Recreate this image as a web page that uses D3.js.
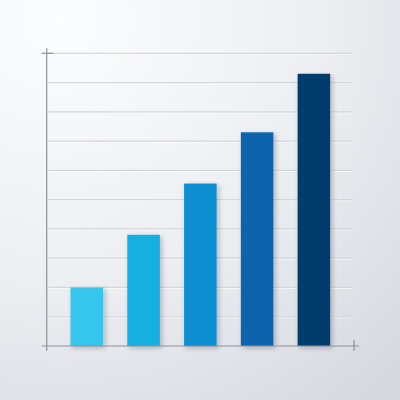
<!DOCTYPE html>
<html>
<head>
<meta charset="utf-8">
<script src="https://cdn.jsdelivr.net/npm/d3@7"></script>
<style>
  html, body { margin: 0; padding: 0; }
  svg { display: block; }
</style>
</head>
<body>
<div class="center"></div>
<script>
// chart data
const categories = ["A", "B", "C", "D", "E"];
const values = [2.0, 3.8, 5.55, 7.3, 9.3];
const barColors = ["#35c5ed", "#13afe2", "#0b8fd1", "#0964ad", "#063d6d"];
const gridTicks = [1, 2, 3, 4, 5, 6, 7, 8, 9, 10];

const W = 400, H = 400;
const x0 = 46.7, x1 = 354, yBase = 346, yTop = 53.3;

const svg = d3.select(".center").append("svg")
    .attr("width", W)
    .attr("height", H);

const defs = svg.append("defs");

// background gradient, light at top left
const bg = defs.append("radialGradient")
    .attr("id", "bg")
    .attr("cx", "0.15").attr("cy", "0.05").attr("r", "1.2");
bg.append("stop").attr("offset", "0").attr("stop-color", "#fcfdfe");
bg.append("stop").attr("offset", "0.55").attr("stop-color", "#eceef2");
bg.append("stop").attr("offset", "1").attr("stop-color", "#d6d9df");

const shadow = defs.append("filter")
    .attr("id", "shadow")
    .attr("x", "-30%").attr("y", "-10%")
    .attr("width", "160%").attr("height", "130%");
shadow.append("feDropShadow")
    .attr("dx", 2).attr("dy", 2)
    .attr("stdDeviation", 2.5)
    .attr("flood-color", "#1a2230")
    .attr("flood-opacity", 0.28);

svg.append("rect")
    .attr("width", W).attr("height", H)
    .attr("fill", "url(#bg)");

// scales
const xScale = d3.scaleBand()
    .domain(categories)
    .range([x0, x1])
    .paddingInner(0.427)
    .paddingOuter(0.42);

const yScale = d3.scaleLinear()
    .domain([0, 10])
    .range([yBase, yTop]);

// grid lines, with a faint light edge under each
const grid = svg.append("g");
grid.selectAll("line.hi")
    .data(gridTicks)
    .enter().append("line")
    .attr("class", "hi")
    .attr("x1", x0 + 1.5)
    .attr("x2", x1 - 1)
    .attr("y1", d => yScale(d) + 1)
    .attr("y2", d => yScale(d) + 1)
    .attr("stroke", "#ffffff")
    .attr("stroke-opacity", 0.6)
    .attr("stroke-width", 1);
grid.selectAll("line.gl")
    .data(gridTicks)
    .enter().append("line")
    .attr("class", "gl")
    .attr("x1", x0 + 1.5)
    .attr("x2", x1 - 1)
    .attr("y1", d => yScale(d))
    .attr("y2", d => yScale(d))
    .attr("stroke", "#d3d6db")
    .attr("stroke-width", 1.2);

// bars
svg.append("g")
    .selectAll("rect")
    .data(values)
    .enter().append("rect")
    .attr("x", (d, i) => xScale(categories[i]))
    .attr("y", d => yScale(d))
    .attr("width", xScale.bandwidth())
    .attr("height", d => yBase - yScale(d))
    .attr("fill", (d, i) => barColors[i])
    .attr("filter", "url(#shadow)");

// axes with small crosses at their ends
const axisColor = "#8d9197";
svg.append("line")
    .attr("x1", x0).attr("x2", x0)
    .attr("y1", yTop - 5).attr("y2", yBase + 5)
    .attr("stroke", axisColor).attr("stroke-width", 1.2);
svg.append("line")
    .attr("x1", x0 - 5).attr("x2", x0 + 6.5)
    .attr("y1", yTop).attr("y2", yTop)
    .attr("stroke", axisColor).attr("stroke-width", 1.2);
svg.append("line")
    .attr("x1", x0 - 5).attr("x2", x1 + 5)
    .attr("y1", yBase).attr("y2", yBase)
    .attr("stroke", axisColor).attr("stroke-width", 1.2);
svg.append("line")
    .attr("x1", x1).attr("x2", x1)
    .attr("y1", yBase - 6).attr("y2", yBase + 5)
    .attr("stroke", axisColor).attr("stroke-width", 1.2);
</script>
</body>
</html>
